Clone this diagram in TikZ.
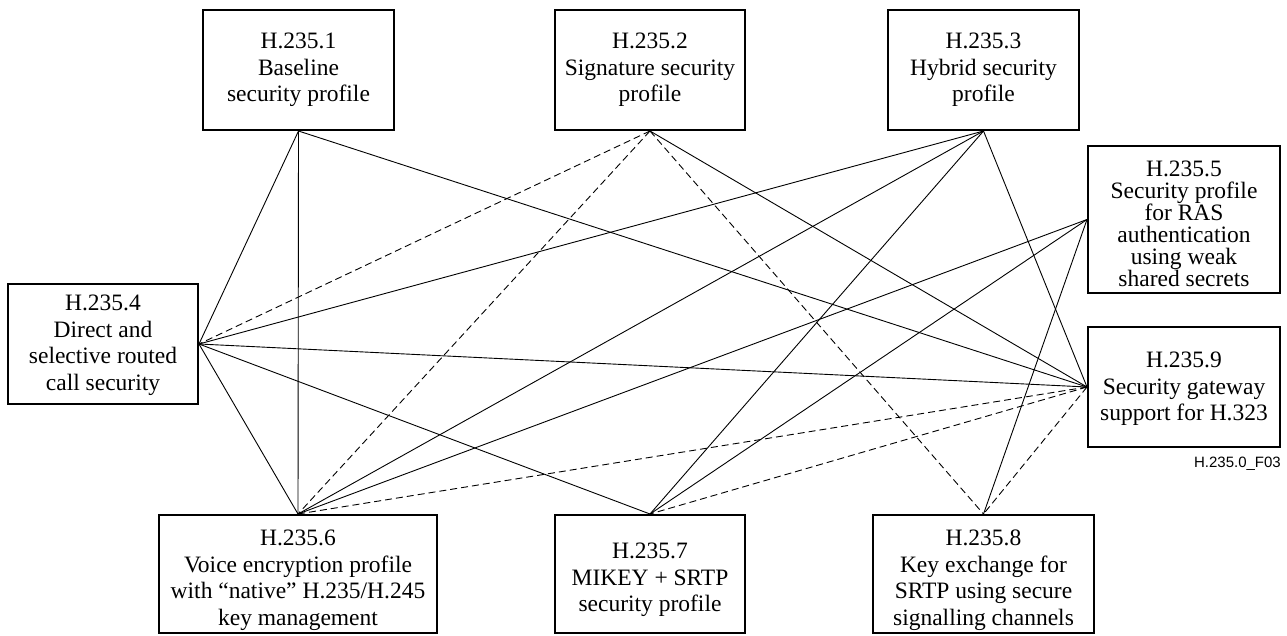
\documentclass[tikz,border=0pt]{standalone}
\usepackage{fontspec}
\setmainfont{Liberation Serif}
\newfontfamily\figlabelfont{Liberation Sans}
\begin{document}
\begin{tikzpicture}[x=1pt,y=-1pt,
  box/.style={draw, line width=2pt, inner sep=0pt},
  boxtext/.style={align=center, inner sep=0pt,
    font=\fontsize{23.5}{26.5}\selectfont},
  link/.style={line width=0.9pt},
  dlink/.style={line width=0.9pt, dash pattern=on 7pt off 4pt}]
\useasboundingbox (0,0) rectangle (1287,635);
% boxes
\node[box, minimum width=191pt, minimum height=120pt] (b1) at (298.5,70) {};
\node[box, minimum width=190pt, minimum height=120pt] (b2) at (650,70) {};
\node[box, minimum width=191pt, minimum height=120pt] (b3) at (983.5,70) {};
\node[box, minimum width=190pt, minimum height=120pt] (b4) at (103,344) {};
\node[box, minimum width=192pt, minimum height=147pt] (b5) at (1184,219.5) {};
\node[box, minimum width=278pt, minimum height=118pt] (b6) at (298,574) {};
\node[box, minimum width=190pt, minimum height=118pt] (b7) at (650,574) {};
\node[box, minimum width=221pt, minimum height=118pt] (b8) at (983.5,574) {};
\node[box, minimum width=192pt, minimum height=120pt] (b9) at (1184,387) {};
% texts
\node[boxtext] (t1) at (298.5,70) {H.235.1\\Baseline\\security profile};
\node[boxtext] (t2) at (650,70) {H.235.2\\Signature security\\profile};
\node[boxtext] (t3) at (983.5,70) {H.235.3\\Hybrid security\\profile};
\node[boxtext] (t4) at (103,345) {H.235.4\\Direct and\\selective routed\\call security};
\node[boxtext, font=\fontsize{23.5}{22}\selectfont] (t5) at (1184,223.5) {H.235.5\\Security profile\\for RAS\\authentication\\using weak\\shared secrets};
\node[boxtext] (t6) at (298,580) {H.235.6\\Voice encryption profile\\with “native” H.235/H.245\\key management};
\node[boxtext] (t7) at (650,580) {H.235.7\\MIKEY + SRTP\\security profile};
\node[boxtext] (t8) at (983.5,580) {H.235.8\\Key exchange for\\SRTP using secure\\signalling channels};
\node[boxtext] (t9) at (1184,389) {H.235.9\\Security gateway\\support for H.323};
\node[anchor=east, inner sep=0pt, font=\figlabelfont\fontsize{15}{17}\selectfont] (fig) at (1281,464) {H.235.0\_F03};
% solid connectors
\draw[link] (b1.south) -- (b4.east);
\draw[link] (b1.south) -- (b6.north);
\draw[link] (b1.south) -- (b9.west);
\draw[link] (b2.south) -- (b9.west);
\draw[link] (b3.south) -- (b4.east);
\draw[link] (b3.south) -- (b6.north);
\draw[link] (b3.south) -- (b7.north);
\draw[link] (b3.south) -- (b9.west);
\draw[link] (b5.west) -- (b6.north);
\draw[link] (b5.west) -- (b7.north);
\draw[link] (b5.west) -- (b8.north);
\draw[link] (b4.east) -- (b9.west);
\draw[link] (b4.east) -- (b6.north);
\draw[link] (b4.east) -- (b7.north);
% dashed connectors
\draw[dlink] (b2.south) -- (b4.east);
\draw[dlink] (b2.south) -- (b6.north);
\draw[dlink] (b2.south) -- (b8.north);
\draw[dlink] (b9.west) -- (b6.north);
\draw[dlink] (b9.west) -- (b7.north);
\draw[dlink] (b9.west) -- (b8.north);
\end{tikzpicture}
\end{document}
